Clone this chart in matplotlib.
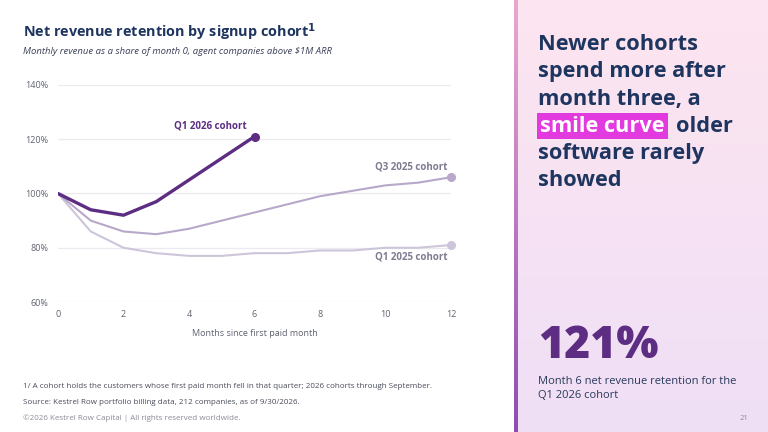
import numpy as np
import matplotlib
matplotlib.use("Agg")
import matplotlib.pyplot as plt
from matplotlib.patches import Rectangle
from matplotlib.colors import LinearSegmentedColormap

plt.rcParams['font.family'] = ['Open Sans', 'DejaVu Sans']

# ---- data ----
months_q1_2026 = [0, 1, 2, 3, 4, 5, 6]
nrr_q1_2026 = [100, 94, 92, 97, 105, 113, 121]
months_q3_2025 = [0, 1, 2, 3, 4, 5, 6, 7, 8, 9, 10, 11, 12]
nrr_q3_2025 = [100, 90, 86, 85, 87, 90, 93, 96, 99, 101, 103, 104, 106]
months_q1_2025 = [0, 1, 2, 3, 4, 5, 6, 7, 8, 9, 10, 11, 12]
nrr_q1_2025 = [100, 86, 80, 78, 77, 77, 78, 78, 79, 79, 80, 80, 81]
y_ticks = [60, 80, 100, 120, 140]
x_ticks = [0, 2, 4, 6, 8, 10, 12]

W, H = 768, 432
fig = plt.figure(figsize=(W / 100, H / 100), dpi=100)
fig.patch.set_facecolor('white')

def fx(px):
    return px / W

def fy(py):
    return 1 - py / H

# ---- right panel gradient ----
pax = fig.add_axes([fx(514), 0, 1 - fx(514), 1])
cmap = LinearSegmentedColormap.from_list('bg', ['#fde5f0', '#efdff6'])
grad = np.linspace(0, 1, 256).reshape(-1, 1)
pax.imshow(grad, aspect='auto', cmap=cmap, extent=[0, 1, 0, 1], origin='upper')
pax.set_xlim(0, 1)
pax.set_ylim(0, 1)
pax.axis('off')
bax = fig.add_axes([fx(514), 0, fx(4), 1])
cmap2 = LinearSegmentedColormap.from_list('bar', ['#eaa8cf', '#8c4db3'])
bax.imshow(grad, aspect='auto', cmap=cmap2, extent=[0, 1, 0, 1], origin='upper')
bax.axis('off')

# ---- chart ----
ax = fig.add_axes([fx(58), fy(302), fx(451) - fx(58), fy(85) - fy(302)])
ax.set_xlim(0, 12)
ax.set_ylim(60, 140)
for s in ax.spines.values():
    s.set_visible(False)
ax.set_yticks(y_ticks)
ax.set_yticklabels([f"{v}%" for v in y_ticks])
ax.set_xticks(x_ticks)
ax.tick_params(axis='both', length=0, labelsize=6.5, colors='#5f6270', pad=6)
ax.tick_params(axis='y', pad=7)
ax.grid(axis='y', color='#ebeaf0', linewidth=0.9)
ax.set_axisbelow(True)
ax.set_xlabel('Months since first paid month', fontsize=6.5, color='#5f6270', labelpad=7)

c26 = '#5c2d82'
c325 = '#b8a8c9'
c125 = '#cdc5da'
ax.plot(months_q1_2025, nrr_q1_2025, color=c125, lw=1.5, solid_capstyle='round', zorder=3)
ax.plot(months_q3_2025, nrr_q3_2025, color=c325, lw=1.5, solid_capstyle='round', zorder=3)
ax.plot(months_q1_2026, nrr_q1_2026, color=c26, lw=2.4, solid_capstyle='round', zorder=4)
ax.plot([months_q1_2025[-1]], [nrr_q1_2025[-1]], 'o', color=c125, ms=5.5, zorder=5, clip_on=False)
ax.plot([months_q3_2025[-1]], [nrr_q3_2025[-1]], 'o', color=c325, ms=5.5, zorder=5, clip_on=False)
ax.plot([months_q1_2026[-1]], [nrr_q1_2026[-1]], 'o', color=c26, ms=5.5, zorder=5, clip_on=False)

ax.text(months_q1_2026[-1] - 1.35, 124.9, 'Q1 2026 cohort', ha='center', va='center',
        fontsize=7, fontweight='bold', color=c26)
ax.text(11.9, 109.8, 'Q3 2025 cohort', ha='right', va='center',
        fontsize=7, fontweight='bold', color='#7f7a90')
ax.text(11.9, 76.6, 'Q1 2025 cohort', ha='right', va='center',
        fontsize=7, fontweight='bold', color='#7f7a90')

# ---- titles ----
fig.text(fx(23), fy(32), 'Net revenue retention by signup cohort$^\\mathbf{1}$', fontsize=10.4,
         fontweight='bold', color='#1e3560', va='center', ha='left')
fig.text(fx(23), fy(51), 'Monthly revenue as a share of month 0, agent companies above $1M ARR',
         fontsize=6.8, style='italic', color='#3a4058', va='center', ha='left')

# ---- footnotes ----
foot_size = 5.8
fig.text(fx(23), fy(387), '1/ A cohort holds the customers whose first paid month fell in that quarter; 2026 cohorts through September.',
         fontsize=foot_size, color='#4a4d5a', va='center')
fig.text(fx(23), fy(402), 'Source: Kestrel Row portfolio billing data, 212 companies, as of 9/30/2026.',
         fontsize=foot_size, color='#4a4d5a', va='center')
fig.text(fx(23), fy(418), '\u00a92026 Kestrel Row Capital | All rights reserved worldwide.',
         fontsize=foot_size, color='#8a8c96', va='center')

# ---- headline ----
navy = '#1e3560'
hl_size = 15.7
lines_y = [44, 72, 99, 126, 154, 181]
fig.text(fx(538), fy(lines_y[0]), 'Newer cohorts', fontsize=hl_size, fontweight='bold', color=navy, va='center')
fig.text(fx(538), fy(lines_y[1]), 'spend more after', fontsize=hl_size, fontweight='bold', color=navy, va='center')
fig.text(fx(538), fy(lines_y[2]), 'month three, a', fontsize=hl_size, fontweight='bold', color=navy, va='center')
fig.patches.append(Rectangle((fx(537), fy(139)), fx(668) - fx(537), fy(113) - fy(139),
                             transform=fig.transFigure, facecolor='#e23ade', edgecolor='none', zorder=1))
fig.text(fx(540), fy(lines_y[3]), 'smile curve', fontsize=hl_size, fontweight='bold', color='white', va='center', zorder=2)
fig.text(fx(676), fy(lines_y[3]), 'older', fontsize=hl_size, fontweight='bold', color=navy, va='center')
fig.text(fx(538), fy(lines_y[4]), 'software rarely', fontsize=hl_size, fontweight='bold', color=navy, va='center')
fig.text(fx(538), fy(lines_y[5]), 'showed', fontsize=hl_size, fontweight='bold', color=navy, va='center')

# ---- KPI ----
fig.text(fx(538), fy(346), '121%', fontsize=32, fontweight=800, color='#5c2d82', va='center')
fig.text(fx(538), fy(381), 'Month 6 net revenue retention for the', fontsize=8, color='#2a3a5a', va='center')
fig.text(fx(538), fy(396), 'Q1 2026 cohort', fontsize=8, color='#2a3a5a', va='center')
fig.text(fx(748), fy(418), '21', fontsize=5.5, color='#8a8c96', va='center', ha='right')

fig.savefig('out.png', dpi=100)
